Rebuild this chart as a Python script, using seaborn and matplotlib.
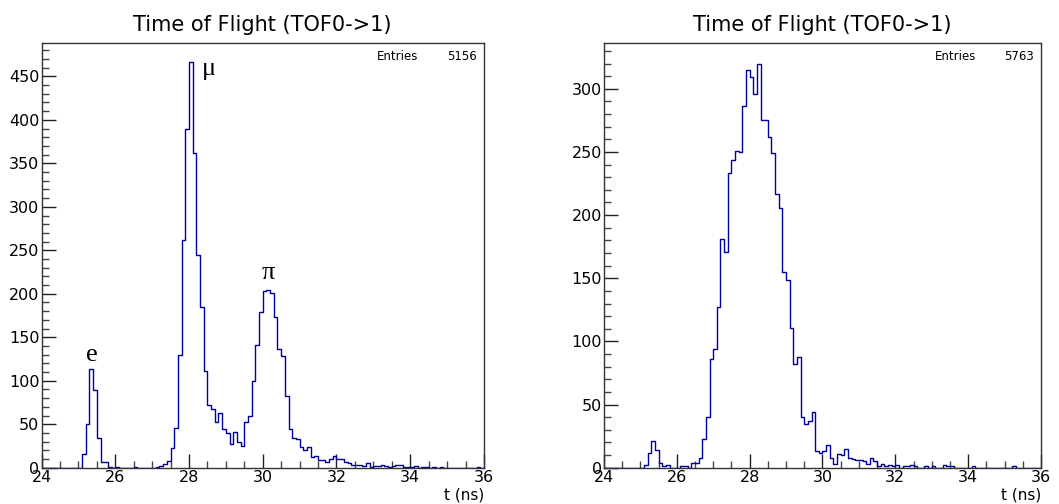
import numpy as np
import pandas as pd
import seaborn as sns
import matplotlib.pyplot as plt
from matplotlib.ticker import MultipleLocator

# Bins: 120 bins of 0.1 ns between 24 and 36 ns
n_bins = 120
faixa = (24.0, 36.0)
centros = np.round(np.arange(24.05, 36.0, 0.1), 3)

# Counts (left: all particles, right: second run)
contagens_esq = [
    0, 0, 0, 0, 0, 0, 0, 0, 0, 0,            # 24.0 - 24.9
    0, 16, 50, 113, 89, 34, 7, 6, 1, 0,      # 25.0 - 25.9
    1, 0, 0, 0, 0, 1, 0, 0, 0, 0,            # 26.0 - 26.9
    0, 1, 2, 4, 8, 23, 46, 130, 262, 390,    # 27.0 - 27.9
    466, 362, 245, 185, 111, 72, 68, 53, 63, 45,   # 28.0 - 28.9
    40, 27, 41, 29, 25, 52, 59, 100, 141, 179,     # 29.0 - 29.9
    203, 204, 201, 173, 136, 128, 83, 45, 34, 33,  # 30.0 - 30.9
    24, 20, 24, 12, 13, 9, 9, 7, 10, 14,     # 31.0 - 31.9
    10, 10, 7, 5, 3, 3, 3, 2, 5, 1,          # 32.0 - 32.9
    2, 2, 3, 2, 1, 2, 3, 3, 1, 1,            # 33.0 - 33.9
    1, 2, 0, 1, 1, 0, 1, 0, 1, 0,            # 34.0 - 34.9
    0, 0, 0, 0, 0, 0, 0, 0, 1, 0,            # 35.0 - 35.9
]
contagens_dir = [
    0, 0, 0, 0, 0, 0, 0, 0, 0, 0,            # 24.0 - 24.9
    0, 2, 12, 21, 14, 4, 1, 2, 0, 0,         # 25.0 - 25.9
    0, 1, 1, 0, 4, 4, 8, 23, 40, 86,         # 26.0 - 26.9
    94, 127, 181, 171, 233, 244, 251, 250, 286, 315,   # 27.0 - 27.9
    309, 296, 320, 275, 275, 262, 249, 217, 206, 155,  # 28.0 - 28.9
    149, 111, 82, 88, 40, 35, 37, 44, 13, 12,          # 29.0 - 29.9
    13, 18, 8, 3, 11, 10, 15, 8, 7, 6,       # 30.0 - 30.9
    6, 5, 3, 8, 5, 1, 3, 1, 2, 1,            # 31.0 - 31.9
    2, 0, 1, 1, 2, 1, 0, 0, 1, 0,            # 32.0 - 32.9
    1, 0, 0, 2, 1, 1, 0, 0, 0, 0,            # 33.0 - 33.9
    0, 1, 0, 0, 0, 0, 0, 0, 0, 0,            # 34.0 - 34.9
    0, 0, 1, 0, 0, 0, 0, 0, 0, 0,            # 35.0 - 35.9
]
entradas = [5156, 5763]
titulo = 'Time of Flight (TOF0->1)'
rotulos_particulas = ['e', 'μ', 'π']
pos_particulas = [(25.37, 130), (28.54, 458), (30.14, 224)]

sns.set_style("white")
plt.rcParams['font.family'] = ['DejaVu Sans']
plt.rcParams['text.color'] = 'black'

fig = plt.figure(figsize=(10.59, 5.04), dpi=100)
ax1 = fig.add_axes([0.0392, 0.072, 0.4178, 0.842])
ax2 = fig.add_axes([0.5703, 0.072, 0.4127, 0.842])

azul = '#00009c'
for ax, cont, ent, ymax in [(ax1, contagens_esq, entradas[0], 488),
                            (ax2, contagens_dir, entradas[1], 336)]:
    df = pd.DataFrame({'t': centros, 'n': cont})
    sns.histplot(data=df, x='t', weights='n', bins=n_bins, binrange=faixa,
                 element='step', fill=False, color=azul, linewidth=1.0, ax=ax)
    ax.set_xlim(24, 36)
    ax.set_ylim(0, ymax)
    ax.xaxis.set_major_locator(MultipleLocator(2))
    ax.xaxis.set_minor_locator(MultipleLocator(0.5))
    ax.yaxis.set_major_locator(MultipleLocator(50))
    ax.yaxis.set_minor_locator(MultipleLocator(10))
    ax.tick_params(which='both', bottom=True, left=True, top=False, right=False)
    ax.tick_params(which='major', direction='in', length=10, width=1.0,
                   labelsize=11.5, colors='#222222', labelcolor='black')
    ax.tick_params(which='minor', direction='in', length=5, width=1.0, colors='#444444')
    ax.tick_params(axis='x', pad=2)
    ax.tick_params(axis='y', pad=1.5)
    for s in ax.spines.values():
        s.set_color('#333333')
        s.set_linewidth(1.0)
    ax.set_ylabel('')
    ax.set_xlabel('')
    ax.text(1.0, -0.046, 't (ns)', transform=ax.transAxes, fontsize=11,
            ha='right', va='top', color='black')
    ax.set_title(titulo, fontsize=15, pad=9, color='black')
    ax.text(0.757, 0.968, 'Entries', transform=ax.transAxes, fontsize=8.5,
            ha='left', va='center', color='black')
    ax.text(0.983, 0.968, str(ent), transform=ax.transAxes, fontsize=8.5,
            ha='right', va='center', color='black')

for rot, (x, y) in zip(rotulos_particulas, pos_particulas):
    ax1.text(x, y, rot, fontsize=19, ha='center', va='center', color='black',
             family=['Liberation Serif'])

fig.savefig('out.png', dpi=100)
